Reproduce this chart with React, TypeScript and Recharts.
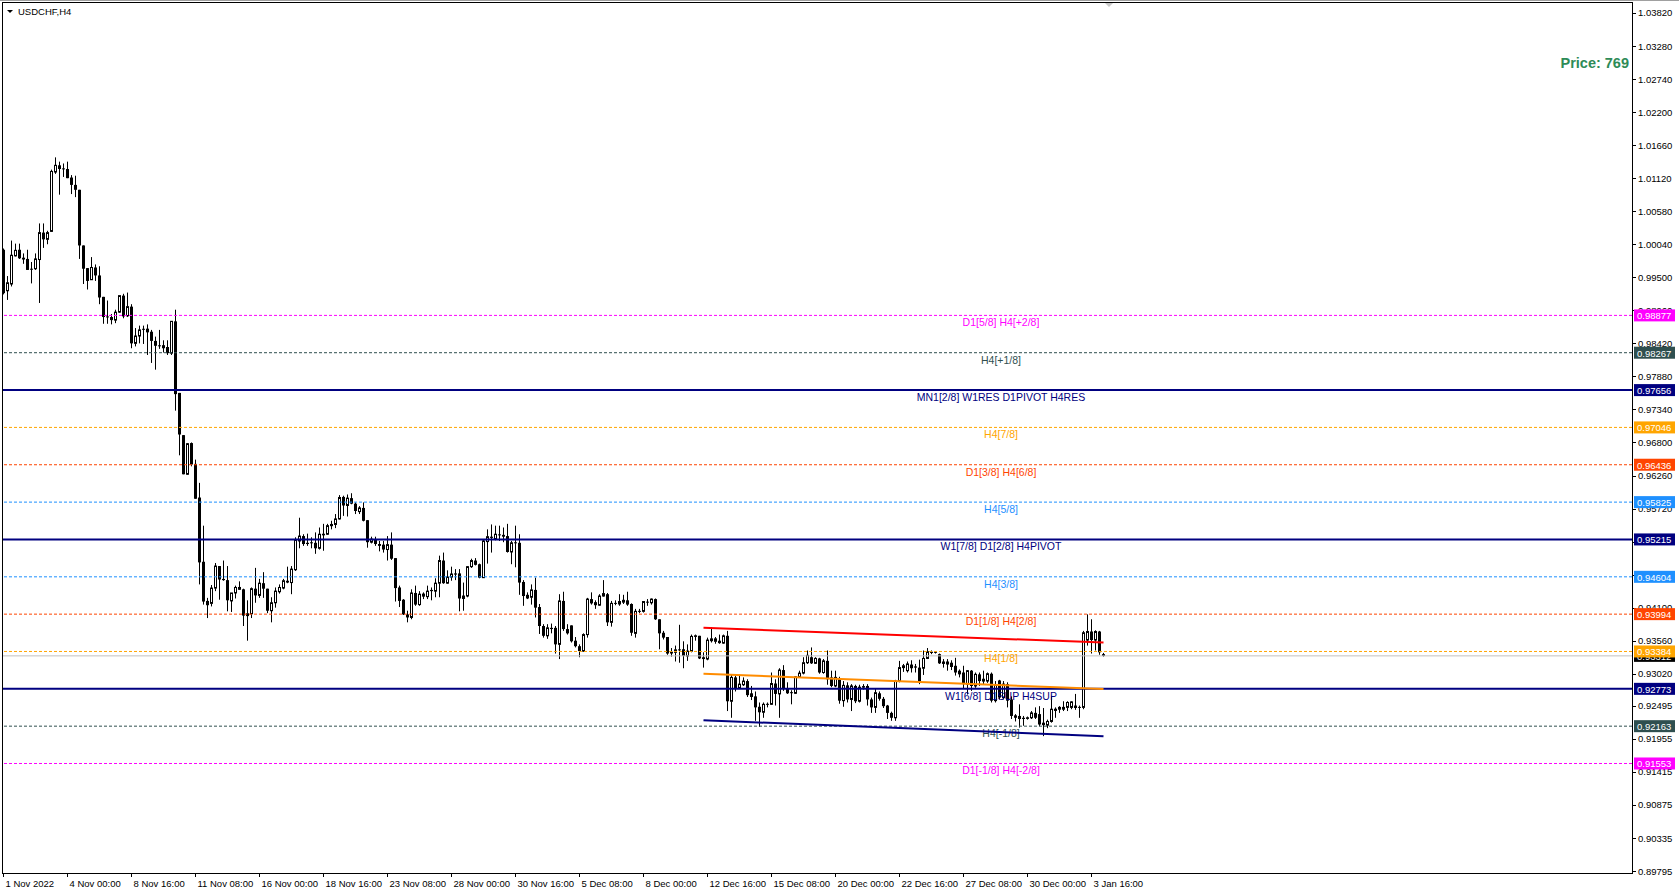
/**
 * USDCHF H4 - candlestick chart with Murrey-style levels and a price channel
 */

import { ComposedChart, Bar, Line, XAxis, YAxis, ReferenceLine } from 'recharts'

// [open, high, low, close] per H4 bar, from 1 Nov 2022 08:00
const ohlc: [number, number, number, number][] = [
  [0.9995, 0.9997, 0.9922, 0.9924], [0.9928, 0.9952, 0.9913, 0.9941], [0.9939, 1.001, 0.9935, 0.9986], [0.9985, 1.0005, 0.9984, 0.9994],
  [0.9995, 1.0005, 0.998, 0.9981], [0.9982, 0.9989, 0.9972, 0.9979], [0.998, 0.9995, 0.9962, 0.9962], [0.9964, 0.9975, 0.994, 0.9963],
  [0.9964, 0.9989, 0.9962, 0.998], [0.9979, 1.0038, 0.9908, 1.0023], [1.0023, 1.0038, 0.9998, 1.0012], [1.0012, 1.0026, 1.0004, 1.0023],
  [1.0025, 1.0126, 1.0024, 1.0123], [1.0122, 1.0146, 1.0119, 1.0133], [1.0133, 1.0139, 1.0085, 1.0127], [1.0128, 1.0136, 1.0114, 1.0127],
  [1.0127, 1.0139, 1.0112, 1.0112], [1.0113, 1.0117, 1.0086, 1.0101], [1.0101, 1.0116, 1.0081, 1.0093], [1.0093, 1.0093, 0.998, 1.0002],
  [1.0002, 1.0002, 0.9939, 0.9964], [0.9965, 0.9965, 0.993, 0.9944], [0.9946, 0.9983, 0.9946, 0.9966], [0.9966, 0.9971, 0.9944, 0.9953],
  [0.9953, 0.9968, 0.9906, 0.9917], [0.9918, 0.9918, 0.9874, 0.9885], [0.9886, 0.9912, 0.9874, 0.9885], [0.9885, 0.989, 0.9873, 0.988],
  [0.988, 0.9897, 0.9875, 0.9893], [0.9893, 0.992, 0.9892, 0.992], [0.992, 0.9923, 0.9883, 0.9886], [0.9887, 0.9925, 0.9885, 0.9902],
  [0.9902, 0.9906, 0.9834, 0.9842], [0.9842, 0.9867, 0.9837, 0.9854], [0.9854, 0.9871, 0.9842, 0.9864], [0.9865, 0.9871, 0.9841, 0.9865],
  [0.9866, 0.9873, 0.9823, 0.986], [0.9861, 0.9864, 0.981, 0.9846], [0.9846, 0.9853, 0.9799, 0.9838], [0.9838, 0.9864, 0.9833, 0.9838],
  [0.9839, 0.9847, 0.9827, 0.9834], [0.9836, 0.9847, 0.9823, 0.9826], [0.9826, 0.9878, 0.9823, 0.9878], [0.9878, 0.9897, 0.9732, 0.9759],
  [0.9761, 0.9761, 0.9659, 0.9693], [0.9692, 0.9692, 0.9628, 0.9628], [0.9628, 0.9679, 0.9627, 0.9678], [0.9679, 0.968, 0.9641, 0.9644],
  [0.9645, 0.9652, 0.9588, 0.9588], [0.959, 0.9614, 0.9448, 0.9484], [0.9485, 0.9544, 0.9415, 0.942], [0.9421, 0.9426, 0.9393, 0.9414],
  [0.9417, 0.9447, 0.9412, 0.9442], [0.9442, 0.9483, 0.9437, 0.9478], [0.9478, 0.9478, 0.9423, 0.9456], [0.9457, 0.9487, 0.9454, 0.9455],
  [0.9455, 0.9478, 0.9404, 0.9422], [0.9421, 0.9434, 0.9403, 0.9434], [0.9434, 0.9446, 0.9425, 0.9443], [0.944, 0.9453, 0.9439, 0.9443],
  [0.944, 0.9441, 0.938, 0.9397], [0.9397, 0.9422, 0.9356, 0.94], [0.94, 0.9443, 0.9393, 0.9441], [0.9441, 0.9475, 0.9418, 0.943],
  [0.943, 0.9457, 0.9426, 0.945], [0.945, 0.9468, 0.9426, 0.9441], [0.9441, 0.9441, 0.9401, 0.9405], [0.9405, 0.9427, 0.9386, 0.9418],
  [0.9418, 0.9443, 0.941, 0.9437], [0.9436, 0.9448, 0.9433, 0.9443], [0.9442, 0.9457, 0.944, 0.9454], [0.9454, 0.9477, 0.945, 0.9451],
  [0.9451, 0.9478, 0.9432, 0.9473], [0.9472, 0.9525, 0.947, 0.9521], [0.9519, 0.9557, 0.9507, 0.9527], [0.9527, 0.953, 0.9511, 0.9514],
  [0.9516, 0.9531, 0.9511, 0.9514], [0.9516, 0.9525, 0.9507, 0.9516], [0.9516, 0.9533, 0.9498, 0.9507], [0.9507, 0.9541, 0.9505, 0.953],
  [0.9529, 0.9547, 0.9503, 0.953], [0.953, 0.9547, 0.9529, 0.9544], [0.9544, 0.9552, 0.9538, 0.9546], [0.9546, 0.9563, 0.954, 0.9555],
  [0.9555, 0.9594, 0.9554, 0.959], [0.9591, 0.9593, 0.956, 0.9577], [0.9577, 0.9595, 0.9559, 0.9589], [0.9589, 0.9597, 0.9579, 0.958],
  [0.958, 0.9582, 0.9563, 0.9568], [0.9567, 0.9576, 0.9563, 0.9573], [0.9573, 0.9582, 0.9551, 0.9552], [0.9553, 0.9553, 0.9508, 0.9517],
  [0.9517, 0.9526, 0.9515, 0.9522], [0.9522, 0.9526, 0.9511, 0.9514], [0.9514, 0.9519, 0.9502, 0.9511], [0.9513, 0.9519, 0.95, 0.9505],
  [0.9505, 0.9527, 0.9487, 0.9513], [0.9513, 0.9533, 0.9488, 0.949], [0.9491, 0.9491, 0.942, 0.9442], [0.9443, 0.9446, 0.9411, 0.9421],
  [0.9423, 0.9424, 0.9398, 0.9399], [0.9399, 0.9405, 0.9386, 0.9394], [0.9394, 0.944, 0.9391, 0.9434], [0.9434, 0.9446, 0.9413, 0.9415],
  [0.9415, 0.9437, 0.9413, 0.9432], [0.9433, 0.9435, 0.9424, 0.9428], [0.9428, 0.9446, 0.9424, 0.9437], [0.9439, 0.9443, 0.9422, 0.9437],
  [0.9437, 0.9458, 0.9427, 0.945], [0.945, 0.9495, 0.9427, 0.9487], [0.9487, 0.95, 0.9449, 0.945], [0.945, 0.9471, 0.9449, 0.946],
  [0.946, 0.9477, 0.9454, 0.9465], [0.9466, 0.9473, 0.9455, 0.9464], [0.9466, 0.9473, 0.9404, 0.9425], [0.9425, 0.9451, 0.9405, 0.9429],
  [0.9429, 0.9478, 0.9427, 0.9477], [0.9477, 0.949, 0.9475, 0.9487], [0.9487, 0.9491, 0.9479, 0.948], [0.9481, 0.9482, 0.9458, 0.9459],
  [0.9459, 0.9522, 0.9459, 0.9519], [0.9518, 0.9538, 0.9482, 0.9526], [0.9526, 0.9546, 0.95, 0.9524], [0.9522, 0.9544, 0.952, 0.953],
  [0.9529, 0.9544, 0.9519, 0.9529], [0.9529, 0.9541, 0.9517, 0.9526], [0.9527, 0.9547, 0.95, 0.9501], [0.9501, 0.9519, 0.9481, 0.9516],
  [0.9516, 0.9544, 0.9476, 0.9516], [0.9516, 0.953, 0.9431, 0.9451], [0.9452, 0.9455, 0.9413, 0.9429], [0.9431, 0.9435, 0.9424, 0.9425],
  [0.9427, 0.9448, 0.9415, 0.9439], [0.9439, 0.9459, 0.9394, 0.941], [0.9411, 0.9416, 0.9367, 0.938], [0.938, 0.9383, 0.9361, 0.9364],
  [0.9364, 0.9383, 0.9359, 0.9377], [0.9377, 0.9384, 0.9368, 0.9375], [0.9377, 0.938, 0.9335, 0.935], [0.935, 0.9432, 0.9326, 0.9421],
  [0.9421, 0.9436, 0.9372, 0.9375], [0.9375, 0.9383, 0.9366, 0.9368], [0.9381, 0.9381, 0.9353, 0.9355], [0.9356, 0.9362, 0.9345, 0.9347],
  [0.9347, 0.935, 0.9329, 0.9339], [0.9339, 0.9368, 0.9338, 0.9366], [0.9366, 0.9426, 0.9361, 0.9424], [0.9424, 0.9435, 0.9415, 0.9417],
  [0.9419, 0.9422, 0.9408, 0.9414], [0.9414, 0.9432, 0.9413, 0.9429], [0.9429, 0.9455, 0.9428, 0.9433], [0.9432, 0.9434, 0.938, 0.9386],
  [0.9386, 0.9421, 0.9379, 0.9417], [0.9417, 0.9422, 0.9414, 0.9417], [0.9416, 0.9432, 0.9413, 0.942], [0.9419, 0.9431, 0.9416, 0.9422],
  [0.9422, 0.9436, 0.9413, 0.9415], [0.9416, 0.9417, 0.9364, 0.9369], [0.9368, 0.9408, 0.9361, 0.9404], [0.9404, 0.9408, 0.9401, 0.9404],
  [0.9404, 0.942, 0.9402, 0.942], [0.9419, 0.9424, 0.9413, 0.9419], [0.9418, 0.9425, 0.9415, 0.9424], [0.9424, 0.9425, 0.939, 0.9391],
  [0.9391, 0.9391, 0.9342, 0.9368], [0.9369, 0.9372, 0.9358, 0.9361], [0.9362, 0.9362, 0.9333, 0.9335], [0.9338, 0.9344, 0.933, 0.9335],
  [0.9337, 0.9348, 0.9322, 0.9341], [0.9341, 0.9382, 0.932, 0.9341], [0.9342, 0.9355, 0.9311, 0.9331], [0.9331, 0.935, 0.9323, 0.9339],
  [0.9339, 0.9366, 0.9337, 0.9363], [0.9363, 0.9366, 0.9356, 0.9364], [0.9364, 0.9364, 0.9326, 0.9327], [0.9329, 0.9337, 0.9312, 0.9326],
  [0.9326, 0.9361, 0.9324, 0.9357], [0.9356, 0.9378, 0.9353, 0.9359], [0.9355, 0.9362, 0.9351, 0.9359], [0.9356, 0.9366, 0.9351, 0.9352],
  [0.9352, 0.9366, 0.9351, 0.9364], [0.9364, 0.9372, 0.9241, 0.9257], [0.9257, 0.9301, 0.923, 0.9296], [0.9296, 0.9299, 0.9273, 0.9278],
  [0.9278, 0.9299, 0.9277, 0.9285], [0.9284, 0.9296, 0.9282, 0.929], [0.929, 0.9293, 0.9264, 0.9267], [0.927, 0.9282, 0.9259, 0.9264],
  [0.9265, 0.9273, 0.9225, 0.9247], [0.9248, 0.9255, 0.9215, 0.9239], [0.9239, 0.9255, 0.923, 0.9252], [0.9252, 0.9255, 0.9247, 0.9252],
  [0.9252, 0.9304, 0.9251, 0.9286], [0.9286, 0.9293, 0.925, 0.9269], [0.9269, 0.9311, 0.923, 0.9308], [0.9308, 0.9316, 0.9274, 0.9277],
  [0.9278, 0.9288, 0.9269, 0.927], [0.9271, 0.9275, 0.9252, 0.9271], [0.927, 0.9298, 0.9269, 0.9297], [0.9297, 0.9307, 0.9295, 0.9303],
  [0.9303, 0.9329, 0.9301, 0.932], [0.932, 0.934, 0.9318, 0.9332], [0.9329, 0.9345, 0.9318, 0.9319], [0.9319, 0.9329, 0.9318, 0.9327],
  [0.9327, 0.9328, 0.9302, 0.9304], [0.9304, 0.9326, 0.9302, 0.9323], [0.9323, 0.934, 0.9284, 0.9293], [0.9296, 0.9307, 0.928, 0.9282],
  [0.9282, 0.9307, 0.928, 0.9296], [0.9294, 0.9297, 0.9253, 0.9258], [0.9258, 0.929, 0.9248, 0.9283], [0.9283, 0.9288, 0.9255, 0.926],
  [0.926, 0.9285, 0.9241, 0.9282], [0.9282, 0.9284, 0.9254, 0.9257], [0.9257, 0.9284, 0.9255, 0.928], [0.928, 0.9285, 0.9276, 0.9281],
  [0.9282, 0.9285, 0.925, 0.926], [0.926, 0.9263, 0.9238, 0.9247], [0.9247, 0.9277, 0.9238, 0.9271], [0.927, 0.9273, 0.9258, 0.9261],
  [0.9261, 0.9264, 0.9246, 0.9249], [0.925, 0.9251, 0.9228, 0.9238], [0.9238, 0.924, 0.9225, 0.923], [0.923, 0.9292, 0.9225, 0.929],
  [0.929, 0.9323, 0.9288, 0.9312], [0.9312, 0.9318, 0.9305, 0.9315], [0.9307, 0.9322, 0.9304, 0.9318], [0.9317, 0.9324, 0.9304, 0.9311],
  [0.9314, 0.9318, 0.9304, 0.9312], [0.9312, 0.9325, 0.9285, 0.929], [0.9311, 0.934, 0.93, 0.9327], [0.9327, 0.9344, 0.9326, 0.9338],
  [0.9338, 0.934, 0.9334, 0.9336], [0.9337, 0.9338, 0.9335, 0.9337], [0.9334, 0.9335, 0.9318, 0.9319], [0.9322, 0.9326, 0.9312, 0.9318],
  [0.9322, 0.9326, 0.9307, 0.9317], [0.932, 0.9324, 0.9308, 0.9313], [0.9315, 0.9328, 0.9299, 0.9304], [0.9307, 0.9309, 0.9296, 0.9301],
  [0.9304, 0.9315, 0.9278, 0.9285], [0.9285, 0.9308, 0.9268, 0.9307], [0.9307, 0.9308, 0.9274, 0.9282], [0.9282, 0.9304, 0.9279, 0.9301],
  [0.9301, 0.9304, 0.9282, 0.929], [0.929, 0.9307, 0.9285, 0.9293], [0.929, 0.9304, 0.9287, 0.9302], [0.9302, 0.9304, 0.9255, 0.9258],
  [0.9258, 0.929, 0.9255, 0.9283], [0.9291, 0.9292, 0.926, 0.9263], [0.9263, 0.929, 0.926, 0.9285], [0.9285, 0.9288, 0.9247, 0.9258],
  [0.926, 0.9265, 0.9228, 0.9233], [0.9234, 0.9236, 0.9224, 0.923], [0.9233, 0.9252, 0.9214, 0.9228], [0.923, 0.9233, 0.9217, 0.9228],
  [0.9229, 0.9232, 0.9227, 0.923], [0.923, 0.9241, 0.9228, 0.9238], [0.9238, 0.9247, 0.9228, 0.923], [0.9236, 0.9249, 0.9216, 0.9219],
  [0.9222, 0.9246, 0.92, 0.9218], [0.9218, 0.9227, 0.9213, 0.9224], [0.9224, 0.9266, 0.9222, 0.9244], [0.9242, 0.9247, 0.923, 0.9244],
  [0.9244, 0.9249, 0.9238, 0.9247], [0.9244, 0.9257, 0.9241, 0.9247], [0.9247, 0.9257, 0.9241, 0.9255], [0.9247, 0.9257, 0.9244, 0.9256],
  [0.925, 0.9269, 0.9243, 0.9246], [0.9247, 0.925, 0.923, 0.9247], [0.9247, 0.9372, 0.9244, 0.9369], [0.9357, 0.9399, 0.9348, 0.9371],
  [0.9371, 0.9391, 0.9335, 0.9357], [0.9357, 0.9373, 0.934, 0.9371], [0.9371, 0.9372, 0.9333, 0.9337], [0.9334, 0.9336, 0.933, 0.9331],
]

// time axis: bar index of each label and its text
const xTickIdx = [0, 16, 32, 48, 64, 80, 96, 112, 128, 144, 160, 176, 192, 208, 224, 240, 256, 272]
const xTickText = [
  '1 Nov 2022', '4 Nov 00:00', '8 Nov 16:00', '11 Nov 08:00', '16 Nov 00:00', '18 Nov 16:00',
  '23 Nov 08:00', '28 Nov 00:00', '30 Nov 16:00', '5 Dec 08:00', '8 Dec 00:00', '12 Dec 16:00',
  '15 Dec 08:00', '20 Dec 00:00', '22 Dec 16:00', '27 Dec 08:00', '30 Dec 00:00', '3 Jan 16:00',
]

const yTicks = [
  1.0382, 1.0328, 1.0274, 1.022, 1.0166, 1.0112, 1.0058, 1.0004, 0.995, 0.9896, 0.9842, 0.9788, 0.9734,
  0.968, 0.9626, 0.9572, 0.9518, 0.9464, 0.941, 0.9356, 0.9302, 0.92495, 0.91955, 0.91415, 0.90875, 0.90335, 0.89795,
]

// horizontal levels
const levelPrices = [0.98877, 0.98267, 0.97656, 0.97046, 0.96436, 0.95825, 0.95215, 0.94604, 0.93994, 0.93384, 0.92773, 0.92163, 0.91553]
const levelNames = [
  'D1[5/8] H4[+2/8]', 'H4[+1/8]', 'MN1[2/8] W1RES D1PIVOT H4RES', 'H4[7/8]', 'D1[3/8] H4[6/8]', 'H4[5/8]',
  'W1[7/8] D1[2/8] H4PIVOT', 'H4[3/8]', 'D1[1/8] H4[2/8]', 'H4[1/8]', 'W1[6/8] D1SUP H4SUP', 'H4[-1/8]', 'D1[-1/8] H4[-2/8]',
]
const levelColors = [
  '#FF00FF', '#2F4F4F', '#000080', '#FFA500', '#FF4500', '#1E90FF', '#000080',
  '#1E90FF', '#FF4500', '#FFA500', '#000080', '#2F4F4F', '#FF00FF',
]
const levelSolid = [false, false, true, false, false, false, true, false, false, false, true, false, false]

const currentPrice = 0.93312

// price tags on the axis: current price first so the level tags sit over it
const tagPrices = [currentPrice, ...levelPrices]
const tagColors = ['#000000', ...levelColors]
// tags come after the plain ticks so they are drawn on top of them
const axisTicks = [...yTicks, ...tagPrices]

// price channel, start and end bar
const channelIdx = [175, 275]
const upperChannel = [0.9377, 0.9353]
const midChannel = [0.9302, 0.9277]
const lowerChannel = [0.9226, 0.92]

const rows = ohlc.map(([o, h, l, c], i) => ({ i, o, h, l, c, range: [l, h] }))
const lineData = (vals: number[]) => channelIdx.map((i, k) => ({ i, v: vals[k] }))

const FONT = '"Liberation Sans", Arial, sans-serif'
const PLOT_RIGHT = 1632

function Candle(props: any) {
  const { x, y, width, height, payload } = props
  if (!payload || x == null) return null
  const top = Math.min(y, y + height)
  const bot = Math.max(y, y + height)
  const { o, h, l, c } = payload
  const span = h - l
  const py = (v: number) => (span > 0 ? top + ((h - v) / span) * (bot - top) : top)
  const cx = Math.round(x + width / 2 - 0.5) + 0.5
  const yo = py(o)
  const yc = py(c)
  const bTop = Math.min(yo, yc)
  const bBot = Math.max(yo, yc)
  return (
    <g>
      <line x1={cx} x2={cx} y1={top} y2={bot} stroke="#000" strokeWidth={1} />
      {c >= o ? (
        <rect x={cx - 1} y={bTop} width={2} height={Math.max(bBot - bTop, 0.01)} fill="#fff" stroke="#000" strokeWidth={1} />
      ) : (
        <rect x={cx - 1.5} y={bTop} width={3} height={Math.max(bBot - bTop, 1)} fill="#000" />
      )}
    </g>
  )
}

function XTick(props: any) {
  const { x, payload } = props
  const k = xTickIdx.indexOf(payload.value)
  const px = Math.round(x - 0.5) + 0.5
  return (
    <g>
      <line x1={px} x2={px} y1={873} y2={877} stroke="#000" />
      <text x={px + 2} y={883} fontSize={9.5} fontFamily={FONT} fill="#000" dominantBaseline="central">
        {xTickText[k]}
      </text>
    </g>
  )
}

// plain price tick, or a coloured tag for a level / the current price
function YTick(props: any) {
  const { y, payload } = props
  const value = Number(payload.value)
  const t = tagPrices.indexOf(value)
  if (t >= 0) {
    return (
      <g>
        <rect x={PLOT_RIGHT + 2} y={y - 6} width={41} height={12} fill={tagColors[t]} />
        <text x={PLOT_RIGHT + 5} y={y + 0.5} fontSize={9.5} fontFamily={FONT} fill="#fff" dominantBaseline="central">
          {value.toFixed(5)}
        </text>
      </g>
    )
  }
  return (
    <g>
      <line x1={PLOT_RIGHT} x2={PLOT_RIGHT + 4} y1={Math.round(y) + 0.5} y2={Math.round(y) + 0.5} stroke="#000" />
      <text x={PLOT_RIGHT + 6} y={y} fontSize={9.5} fontFamily={FONT} fill="#000" dominantBaseline="central">
        {value.toFixed(5)}
      </text>
    </g>
  )
}

// centre caption under each level
function LevelLabel(props: any) {
  const { viewBox, text, color } = props
  if (!viewBox || !text) return null
  return (
    <text x={viewBox.x + 998} y={viewBox.y + 7} fontSize={10.5} fontFamily={FONT} fill={color} textAnchor="middle" dominantBaseline="central">
      {text}
    </text>
  )
}

export default function App() {
  return (
    <div style={{ position: 'absolute', left: 0, top: 0, width: 1679, height: 892, background: '#fff', fontFamily: FONT }}>
      <div style={{ position: 'absolute', left: 0, top: 0, width: 1679, height: 1, background: '#a0a0a0' }} />
      <div style={{ position: 'absolute', left: 2, top: 2, width: 1629, height: 870, border: '1px solid #000' }} />
      <ComposedChart
        width={1679}
        height={892}
        data={rows}
        margin={{ top: 3, right: 0, bottom: 0, left: 3 }}
        style={{ position: 'absolute', left: 0, top: 0 }}
      >
        <XAxis
          dataKey="i"
          type="number"
          domain={[-0.125, 407.125]}
          allowDataOverflow
          ticks={xTickIdx}
          interval={0}
          height={19}
          axisLine={false}
          tickLine={false}
          tick={<XTick />}
        />
        <YAxis
          orientation="right"
          type="number"
          domain={[0.89763, 1.03983]}
          allowDataOverflow
          ticks={axisTicks}
          interval={0}
          width={47}
          axisLine={false}
          tickLine={false}
          tickSize={0}
          tick={<YTick />}
        />
        <ReferenceLine y={currentPrice} stroke="#C0C0C0" strokeWidth={1} />
        {levelPrices.map((p, k) => (
          <ReferenceLine
            key={p}
            y={p}
            stroke={levelColors[k]}
            strokeWidth={levelSolid[k] ? 2 : 1}
            strokeDasharray={levelSolid[k] ? undefined : '3 2'}
            label={<LevelLabel color={levelColors[k]} text={levelNames[k]} />}
          />
        ))}
        <Line data={lineData(upperChannel)} dataKey="v" stroke="#FF0000" strokeWidth={2} dot={false} isAnimationActive={false} />
        <Line data={lineData(midChannel)} dataKey="v" stroke="#FF8C00" strokeWidth={2} dot={false} isAnimationActive={false} />
        <Line data={lineData(lowerChannel)} dataKey="v" stroke="#000080" strokeWidth={2} dot={false} isAnimationActive={false} />
        <Bar dataKey="range" barSize={3} shape={(p: any) => <Candle {...p} />} isAnimationActive={false} />
      </ComposedChart>
      {/* title */}
      <svg style={{ position: 'absolute', left: 0, top: 0 }} width={1679} height={20}>
        <polygon points="7,10 13,10 10,13" fill="#000" />
        <polygon points="1105,3 1113,3 1109,7" fill="#c8c8c8" />
      </svg>
      <div style={{ position: 'absolute', left: 18, top: 5, fontSize: 9.5, lineHeight: '13px', color: '#000' }}>USDCHF,H4</div>
      <div
        style={{
          position: 'absolute', left: 1479, top: 54, width: 150, textAlign: 'right',
          fontSize: 14.5, lineHeight: '18px', fontWeight: 'bold', color: '#2E8B57',
        }}
      >
        Price: 769
      </div>
    </div>
  )
}
